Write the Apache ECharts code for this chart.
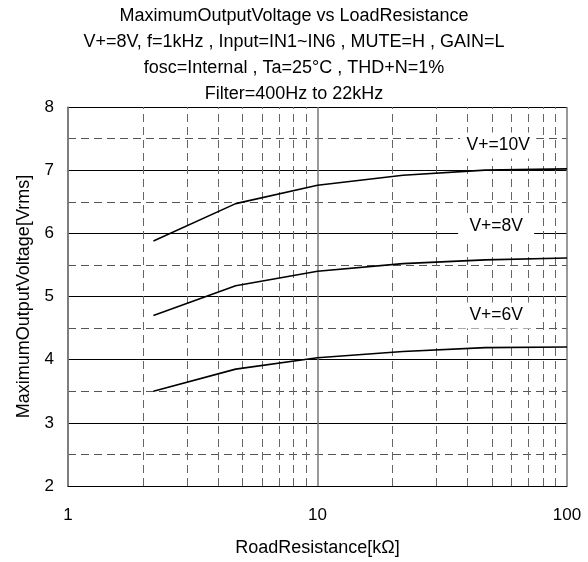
<!DOCTYPE html>
<html>
<head>
<meta charset="utf-8">
<script src="https://cdn.jsdelivr.net/npm/echarts@6/dist/echarts.min.js"></script>
<style>html,body{margin:0;padding:0;background:#fff;}#c{width:588px;height:562px;}</style>
</head>
<body>
<div id="c"></div>
<script>
const titleLines = [
  'MaximumOutputVoltage vs LoadResistance',
  'V+=8V, f=1kHz , Input=IN1~IN6 , MUTE=H , GAIN=L',
  'fosc=Internal , Ta=25\u00b0C , THD+N=1%',
  'Filter=400Hz to 22kHz'
];
const resistance = [2.2, 4.7, 10, 22, 47, 100];
const v10 = [5.88, 6.47, 6.76, 6.92, 7.00, 7.02];
const v8  = [4.70, 5.17, 5.40, 5.52, 5.58, 5.61];
const v6  = [3.50, 3.85, 4.03, 4.13, 4.19, 4.20];
const seriesNames = ['V+=10V', 'V+=8V', 'V+=6V'];
const labelPos = [[53, 7.39], [52, 6.11], [52, 4.70]];
const minorX = [2,3,4,5,6,7,8,9,20,30,40,50,60,70,80,90];
const yTicks = [2,3,4,5,6,7,8];

const font = '"Liberation Sans", Arial, sans-serif';
const chart = echarts.init(document.getElementById('c'));
const allData = [v10, v8, v6];

const series = allData.map((vals, i) => {
  const s = {
    name: seriesNames[i],
    type: 'line',
    data: resistance.map((r, k) => [r, vals[k]]),
    symbol: 'none',
    smooth: false,
    lineStyle: { color: '#000', width: 1.6 },
    z: 5,
    markPoint: {
      silent: true,
      symbol: 'rect',
      symbolSize: [76, 26],
      itemStyle: { color: '#fff' },
      label: {
        show: true, position: 'inside', color: '#000',
        fontFamily: font, fontSize: 17.5,
        formatter: seriesNames[i]
      },
      data: [{ coord: labelPos[i] }]
    }
  };
  if (i === 0) {
    s.markLine = {
      silent: true,
      symbol: ['none', 'none'],
      label: { show: false },
      lineStyle: { type: [8, 5], color: '#666', width: 1 },
      data: minorX.map(x => ({ xAxis: x }))
    };
  }
  return s;
});

chart.setOption({
  animation: false,
  backgroundColor: '#fff',
  title: {
    text: titleLines.join('\n'),
    left: 'center',
    top: 3,
    padding: 0,
    textStyle: { fontFamily: font, fontSize: 18, fontWeight: 'normal', color: '#000', lineHeight: 26 }
  },
  grid: { left: 68, right: 21, top: 107, bottom: 74 },
  xAxis: {
    type: 'log',
    logBase: 10,
    min: 1, max: 100,
    name: 'RoadResistance[k\u03a9]',
    nameLocation: 'middle',
    nameGap: 53,
    nameTextStyle: { fontFamily: font, fontSize: 18, color: '#000' },
    axisLine: { show: true, lineStyle: { color: '#000', width: 1 } },
    axisTick: { show: false },
    axisLabel: { fontFamily: font, fontSize: 17, color: '#000', margin: 21 },
    splitLine: { show: true, lineStyle: { color: '#777', width: 1.5 } }
  },
  yAxis: {
    type: 'value',
    min: 2, max: 8, interval: 1,
    name: 'MaximumOutputVoltage[Vrms]',
    nameLocation: 'middle',
    nameGap: 35,
    nameTextStyle: { fontFamily: font, fontSize: 18, color: '#000' },
    axisLine: { show: true, lineStyle: { color: '#777', width: 1.5 } },
    axisTick: { show: false },
    axisLabel: {
      fontFamily: font, fontSize: 17, color: '#000', margin: 14,
      formatter: v => (yTicks.indexOf(v) >= 0 ? String(v) : '')
    },
    splitLine: { show: true, lineStyle: { color: '#000', width: 1 } },
    minorTick: { show: false, splitNumber: 2 },
    minorSplitLine: { show: true, lineStyle: { color: '#555', width: 1, type: [8, 5] } }
  },
  series: series
});
</script>
</body>
</html>
